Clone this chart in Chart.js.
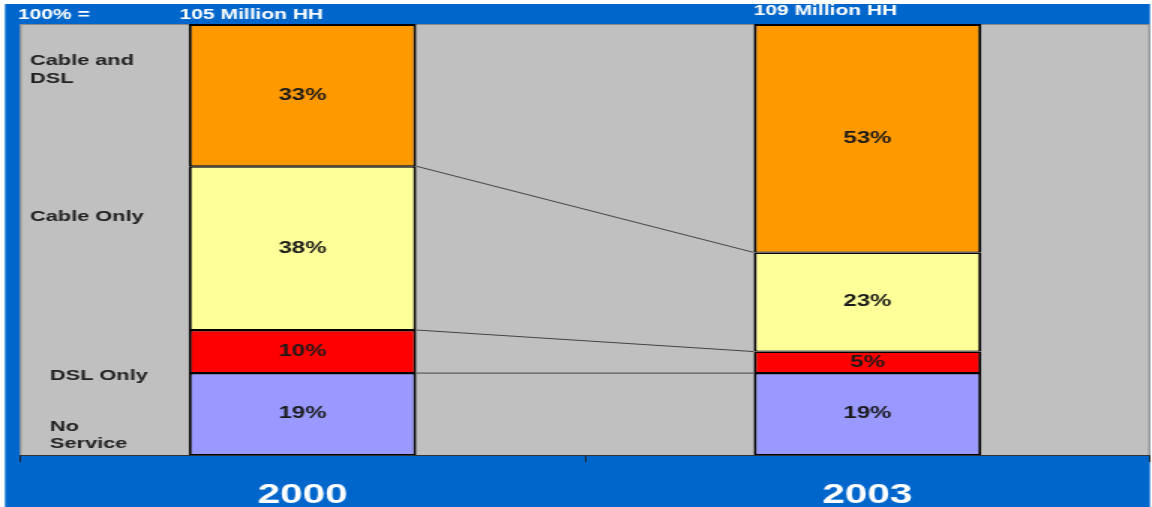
<!DOCTYPE html>
<html>
<head>
<meta charset="utf-8">
<script src="https://cdn.jsdelivr.net/npm/chart.js@4/dist/chart.umd.min.js"></script>
<style>
  html, body { margin: 0; padding: 0; background: #fff; overflow: hidden; }
  /* the source picture is stretched sideways, so draw narrow and stretch */
  #chart { display: block; transform: scaleX(1.5); transform-origin: 0 0; }
</style>
</head>
<body>
<canvas id="chart" width="768" height="507"></canvas>
<script>
const years = ['2000', '2003'];
const householdTotals = ['105 Million HH', '109 Million HH'];
const noService = [19, 19];
const dslOnly = [10, 5];
const cableOnly = [38, 23];
const cableAndDsl = [33, 53];
const sideLabels = [['No', 'Service'], ['DSL Only'], ['Cable Only'], ['Cable and', 'DSL']];

const FONT = '"Liberation Sans", Arial, sans-serif';
const BLUE = '#0066cc';
const GRAY = '#c0c0c0';

const frame = {
  id: 'frame',
  beforeDraw(chart) {
    const { ctx, chartArea: a } = chart;
    ctx.save();
    ctx.fillStyle = '#fff';
    ctx.fillRect(0, 0, chart.width, chart.height);
    ctx.fillStyle = BLUE;
    ctx.fillRect(3.33, 4, a.right - 3.33, chart.height - 4);
    ctx.fillStyle = GRAY;
    ctx.fillRect(a.left, a.top, a.right - a.left, a.bottom - a.top);
    ctx.strokeStyle = '#8a8a8a';
    ctx.lineWidth = 1;
    ctx.beginPath();
    ctx.moveTo(a.left + 0.5, a.bottom);
    ctx.lineTo(a.left + 0.5, a.top + 0.5);
    ctx.lineTo(a.right - 0.5, a.top + 0.5);
    ctx.lineTo(a.right - 0.5, a.bottom);
    ctx.stroke();
    ctx.restore();
  }
};

const connectors = {
  id: 'connectors',
  afterDatasetsDraw(chart) {
    const { ctx } = chart;
    ctx.save();
    ctx.strokeStyle = '#444';
    ctx.lineWidth = 1;
    for (let i = 0; i < 3; i++) {
      const bars = chart.getDatasetMeta(i).data;
      const a = bars[0], b = bars[1];
      ctx.beginPath();
      ctx.moveTo(a.x + a.width / 2, a.y);
      ctx.lineTo(b.x - b.width / 2, b.y);
      ctx.stroke();
    }
    ctx.restore();
  }
};

const labels = {
  id: 'labels',
  afterDraw(chart) {
    const { ctx } = chart;
    ctx.save();
    // values inside the segments
    ctx.font = 'bold 16px ' + FONT;
    ctx.fillStyle = '#1a1a1a';
    ctx.textAlign = 'center';
    ctx.textBaseline = 'middle';
    chart.data.datasets.forEach((ds, i) => {
      chart.getDatasetMeta(i).data.forEach((bar, j) => {
        ctx.fillText(ds.data[j] + '%', bar.x, (bar.y + bar.base) / 2);
      });
    });

    // series names on the left
    ctx.font = 'bold 14.5px ' + FONT;
    ctx.fillStyle = '#222';
    ctx.textAlign = 'left';
    const spots = [[33.3, [427, 444]], [33.3, [376]], [20, [217]], [20, [61, 79]]];
    sideLabels.forEach((lines, i) => {
      lines.forEach((t, k) => ctx.fillText(t, spots[i][0], spots[i][1][k]));
    });

    // household totals on top
    ctx.font = 'bold 14px ' + FONT;
    ctx.fillStyle = '#fff';
    ctx.fillText('100% =', 12, 15);
    const bars = chart.getDatasetMeta(0).data;
    const shift = [-6, 0], ty = [15, 11];
    householdTotals.forEach((t, j) => {
      ctx.fillText(t, bars[j].x - bars[j].width / 2 + shift[j], ty[j]);
    });
    ctx.restore();
  }
};

const border = { top: 1.5, bottom: 1, left: 2, right: 2 };

new Chart(document.getElementById('chart'), {
  type: 'bar',
  data: {
    labels: years,
    datasets: [
      { label: 'No Service', data: noService, backgroundColor: '#9999ff' },
      { label: 'DSL Only', data: dslOnly, backgroundColor: '#ff0000' },
      { label: 'Cable Only', data: cableOnly, backgroundColor: '#ffff99' },
      { label: 'Cable and DSL', data: cableAndDsl, backgroundColor: '#ff9900', borderWidth: { top: 2, bottom: 1, left: 2, right: 2 } }
    ].map((d) => Object.assign({ borderColor: '#000', borderWidth: border, borderSkipped: false }, d))
  },
  options: {
    responsive: false,
    animation: false,
    devicePixelRatio: 1,
    layout: { padding: { left: 13.33, right: 1.33, top: 24, bottom: 0 } },
    datasets: { bar: { categoryPercentage: 1, barPercentage: 0.403 } },
    plugins: { legend: { display: false }, tooltip: { enabled: false } },
    scales: {
      x: {
        stacked: true,
        grid: { offset: true, drawOnChartArea: false, drawTicks: true, tickLength: 7, color: '#222', lineWidth: 1 },
        border: { display: true, color: '#333', width: 1 },
        ticks: { color: '#fff', padding: 17, font: { family: FONT, size: 27, weight: 'bold' } },
        afterFit(scale) { scale.height = 52; }
      },
      y: { stacked: true, display: false, min: 0, max: 100 }
    }
  },
  plugins: [frame, connectors, labels]
});
</script>
</body>
</html>
